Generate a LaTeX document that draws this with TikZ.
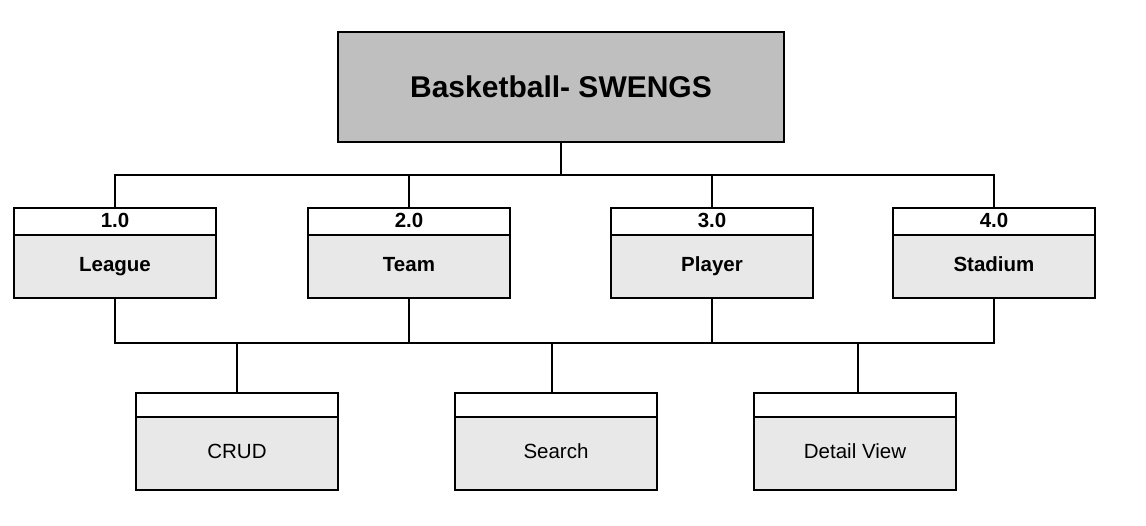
\documentclass[tikz,border=0pt]{standalone}
\usepackage{fontspec}
\setmainfont{Liberation Sans}
\usetikzlibrary{positioning}

\tikzset{
  titulo/.style={draw, line width=2.6pt, fill=black!25, minimum width=446pt, minimum height=110pt,
    inner sep=0pt, font=\fontsize{30}{34}\selectfont\bfseries},
  cuerpo/.style={draw, line width=2.4pt, fill=black!9, minimum width=202pt, inner sep=0pt,
    outer sep=0pt, text height=14pt, text depth=4pt},
  cabecera/.style={draw, line width=2.4pt, fill=white, minimum width=202pt, inner sep=0pt,
    outer sep=0pt, text height=14pt, text depth=2pt},
  linea/.style={line width=1.8pt}
}

\begin{document}
\begin{tikzpicture}[x=1pt, y=1pt, font=\fontsize{20.5}{24}\selectfont]

    % Fijamos el marco
    \useasboundingbox (0,0) rectangle (1146,525);

    % Caja principal
    \node[titulo] (raiz) at (561,438) {Basketball- SWENGS};

    % Modulos del segundo nivel
    \node[cuerpo, minimum height=63pt, font=\fontsize{20.5}{24}\selectfont\bfseries] (league)  at (115,258.5) {League};
    \node[cuerpo, minimum height=63pt, font=\fontsize{20.5}{24}\selectfont\bfseries] (team)    at (409,258.5) {Team};
    \node[cuerpo, minimum height=63pt, font=\fontsize{20.5}{24}\selectfont\bfseries] (player)  at (712,258.5) {Player};
    \node[cuerpo, minimum height=63pt, font=\fontsize{20.5}{24}\selectfont\bfseries] (stadium) at (994,258.5) {Stadium};
    \node[cabecera, minimum height=27pt, font=\fontsize{20.5}{24}\selectfont\bfseries, above=0pt of league]  (league-h)  {1.0};
    \node[cabecera, minimum height=27pt, font=\fontsize{20.5}{24}\selectfont\bfseries, above=0pt of team]    (team-h)    {2.0};
    \node[cabecera, minimum height=27pt, font=\fontsize{20.5}{24}\selectfont\bfseries, above=0pt of player]  (player-h)  {3.0};
    \node[cabecera, minimum height=27pt, font=\fontsize{20.5}{24}\selectfont\bfseries, above=0pt of stadium] (stadium-h) {4.0};

    % Funciones del tercer nivel
    \node[cuerpo, minimum height=73pt] (crud)   at (237,71.5) {CRUD};
    \node[cuerpo, minimum height=73pt] (search) at (556,71.5) {Search};
    \node[cuerpo, minimum height=73pt] (detail) at (855,71.5) {Detail View};
    \foreach \n in {crud,search,detail}
        \node[cabecera, minimum height=24pt, above=0pt of \n] (\n-h) {};

    % Conexiones de arriba
    \coordinate (bus1) at (0,350);
    \draw[linea] (raiz.south) -- (raiz.south |- bus1);
    \draw[line width=1.4pt] (league-h.north) |- (stadium-h.north |- bus1) -- (stadium-h.north);
    \foreach \n in {team,player}
        \draw[line width=1.4pt] (\n-h.north) -- (\n-h.north |- bus1);

    % Conexiones de abajo
    \coordinate (bus2) at (0,182);
    \draw[linea] (league.south) |- (stadium.south |- bus2) -- (stadium.south);
    \foreach \n in {team,player}
        \draw[linea] (\n.south) -- (\n.south |- bus2);
    \foreach \n/\d in {crud/0,search/-4,detail/3}
        \draw[linea] ([xshift=\d pt]\n-h.north) -- ([xshift=\d pt]\n-h.north |- bus2);

\end{tikzpicture}
\end{document}
